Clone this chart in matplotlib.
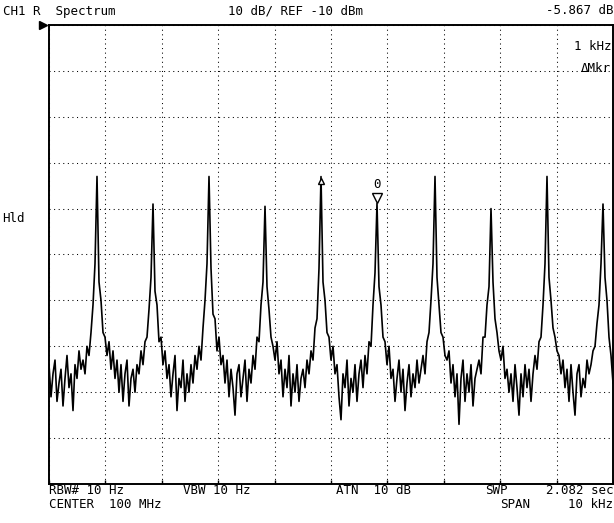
import numpy as np
import matplotlib

matplotlib.use("Agg")
import matplotlib.pyplot as plt
from matplotlib.transforms import offset_copy

W, H = 614, 523

# spectrum trace in dBm (evenly spread over the span)
trace_dbm = [
    -84, -91, -86, -83, -92, -88, -85, -93, -87, -82, -89, -86, -94, -84, -87, -81, -85,
    -83, -86, -80, -82, -77, -71, -62,
    -43.0,
    -66, -70, -77, -78, -82, -79, -85,
    -81, -87, -83, -90, -84, -92, -86, -83, -93, -87, -85, -90, -84,
    -86, -81, -84, -79, -78, -72, -65,
    -49.0,
    -68, -71, -79, -78, -84, -81, -87,
    -84, -91, -86, -82, -94, -87, -89, -83, -92, -86, -90, -84, -88, -82,
    -85, -80, -83, -76, -70, -62,
    -43.0,
    -63, -73, -74, -81, -78, -84, -82,
    -88, -83, -91, -85, -89, -95, -86, -84, -91, -87, -83, -92, -85, -88,
    -82, -85, -78, -79, -71, -66,
    -49.5,
    -67, -72, -78, -80, -83, -79, -86,
    -83, -91, -85, -89, -82, -93, -86, -90, -84, -92, -87, -85, -89, -83,
    -86, -81, -83, -76, -74, -63,
    -43.03,
    -66, -70, -77, -78, -83, -80, -86,
    -84, -91, -96, -86, -89, -83, -93, -87, -90, -84, -92, -86, -83, -89,
    -82, -86, -79, -80, -71, -64,
    -48.897,
    -67, -71, -78, -79, -84, -80, -87,
    -85, -92, -87, -83, -90, -85, -94, -88, -84, -91, -86, -89, -83, -88,
    -85, -82, -86, -79, -77, -70, -62,
    -43.0,
    -65, -71, -77, -78, -82, -83, -81,
    -88, -84, -91, -86, -97, -87, -83, -92, -86, -90, -84, -93, -87, -85,
    -83, -86, -78, -78, -71, -67,
    -50.0,
    -66, -74, -77, -81, -83, -80, -87,
    -85, -90, -86, -92, -84, -89, -95, -86, -91, -84, -89, -85, -92, -86,
    -82, -85, -79, -78, -71, -62,
    -43.0,
    -65, -70, -76, -78, -81, -82, -86,
    -83, -89, -85, -92, -84, -90, -95, -86, -84, -91, -87, -89, -83, -86,
    -84, -81, -80, -75, -71, -62,
    -49.0,
    -65, -70, -78, -82, -88,
]

span_khz = 10
ref_dbm = -10
db_per_div = 10
n_div = 10
ref_mkr_idx = 136   # delta reference marker
mkr0_idx = 164      # active marker 0

FONT = dict(family="DejaVu Sans Mono", fontsize=9, color="black")


def px(x, y):
    """screen pixel -> figure fraction"""
    return x / W, 1 - y / H


freq = np.linspace(-span_khz / 2, span_khz / 2, len(trace_dbm))
trace = np.array(trace_dbm)

fig = plt.figure(figsize=(W / 100, H / 100), dpi=100)
ax = fig.add_axes([49 / W, (H - 484) / H, 564 / W, 459 / H])

ax.plot(freq, trace, color="black", lw=1.2)

ax.set_xlim(-span_khz / 2, span_khz / 2)
ax.set_ylim(ref_dbm - n_div * db_per_div, ref_dbm)
ax.set_xticks(np.linspace(-span_khz / 2, span_khz / 2, n_div + 1))
ax.set_yticks(np.arange(ref_dbm - n_div * db_per_div, ref_dbm + 1, db_per_div))
ax.grid(True, color="black", lw=0.75, linestyle=(0, (1, 3.4)))
ax.tick_params(labelbottom=False, labelleft=False, left=False,
               bottom=True, direction="in", length=3, width=1)
for s in ax.spines.values():
    s.set_linewidth(1.4)

# reference level pointer
ax.plot([-0.011], [1.0], marker=">", color="black", markersize=6,
        transform=ax.transAxes, clip_on=False)

# delta reference marker (small open arrow head on the peak)
f_ref, a_ref = freq[ref_mkr_idx], trace[ref_mkr_idx]
ax.plot([f_ref], [a_ref], marker="^", markersize=4.5, mfc="white", mec="black",
        mew=1.0, transform=offset_copy(ax.transData, fig=fig, x=0, y=-4, units="dots"))

# marker 0
f_m0, a_m0 = freq[mkr0_idx], trace[mkr0_idx]
ax.plot([f_m0], [a_m0], marker="v", markersize=7.5, mfc="white", mec="black",
        mew=1.0, transform=offset_copy(ax.transData, fig=fig, x=0, y=6, units="dots"))
ax.annotate("0", (f_m0, a_m0), xytext=(0, 14), textcoords="offset points",
            ha="center", va="center", **FONT)

delta_db = a_m0 - a_ref
delta_khz = f_m0 - f_ref

# header / footer annotations
fig.text(*px(3, 11), "CH1 R  Spectrum", ha="left", va="center", **FONT)
fig.text(*px(228, 11), f"{db_per_div} dB/ REF {ref_dbm} dBm", ha="left", va="center", **FONT)
fig.text(*px(614, 11), f"{delta_db:.3f} dB", ha="right", va="center", **FONT)
fig.text(*px(611, 47), f"{delta_khz:.0f} kHz", ha="right", va="center", **FONT)
fig.text(*px(611, 69), "\u0394Mkr", ha="right", va="center", **FONT)
fig.text(*px(2, 218), "Hld", ha="left", va="center", **FONT)

fig.text(*px(49, 491), "RBW# 10 Hz", ha="left", va="center", **FONT)
fig.text(*px(183, 491), "VBW 10 Hz", ha="left", va="center", **FONT)
fig.text(*px(336, 491), "ATN  10 dB", ha="left", va="center", **FONT)
fig.text(*px(485, 491), "SWP", ha="left", va="center", **FONT)
fig.text(*px(613, 491), "2.082 sec", ha="right", va="center", **FONT)
fig.text(*px(49, 505), "CENTER  100 MHz", ha="left", va="center", **FONT)
fig.text(*px(500, 505), "SPAN", ha="left", va="center", **FONT)
fig.text(*px(613, 505), f"{span_khz} kHz", ha="right", va="center", **FONT)

fig.savefig("out.png", dpi=100)
